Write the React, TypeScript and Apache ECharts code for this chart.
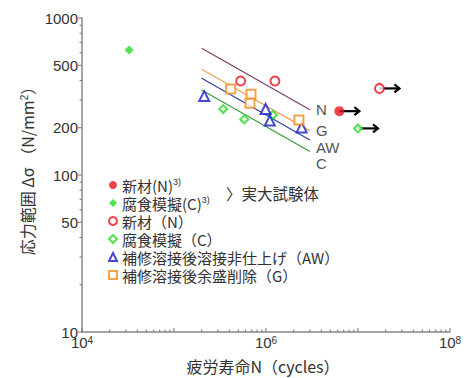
import React, { useEffect, useRef } from "react";
import * as echarts from "echarts";

// ---- data ----
const fullNewMat = [[6.27e6, 255]]; // 新材(N)3)  (run-out)
const fullCorr = [[3.25e4, 625]]; // 腐食模擬(C)3)
const newMat = [[5.3e5, 397], [1.25e6, 397], [1.71e7, 356]];
const corr = [[3.43e5, 263], [5.8e5, 226], [1.19e6, 241], [1.0e7, 198]];
const awData = [[2.13e5, 318], [9.9e5, 263], [1.1e6, 222], [2.44e6, 201]];
const gData = [[4.13e5, 353], [6.87e5, 327], [6.7e5, 286], [2.28e6, 224]];
const runOuts = [[6.27e6, 255], [1.71e7, 356], [1.0e7, 198]];

const lineN = [[2e5, 641], [3e6, 260]];
const lineG = [[2e5, 471], [3e6, 191]];
const lineAW = [[2e5, 413], [3e6, 167]];
const lineC = [[2e5, 348], [3e6, 141]];

const xDecades = [4, 5, 6, 7, 8];
const xLabelExps = [4, 6, 8];
const yLabels = [10, 50, 100, 200, 500, 1000];
const yDecades = [1, 2, 3];

const xTicks: number[][] = [];
xDecades.forEach((d) => {
  xTicks.push([Math.pow(10, d), 10, 1]);
  if (d < 8) for (let k = 2; k <= 9; k++) xTicks.push([k * Math.pow(10, d), 10, 0]);
});
const yTicks: number[][] = [];
yDecades.forEach((d) => {
  yTicks.push([1e4, Math.pow(10, d), 1]);
  if (d < 3) for (let k = 2; k <= 9; k++) yTicks.push([1e4, k * Math.pow(10, d), yLabels.includes(k * Math.pow(10, d)) ? 1 : 0]);
});
const yLabelData = yLabels.map((v) => [1e4, v]);

const RED = "#e8141c";
const GREEN = "#22dd22";
const BLUE = "#1a1acc";
const ORANGE = "#f08c1e";
const FONT_CJK = "'Noto Sans CJK JP', 'Liberation Sans', sans-serif";
const FONT = "'Liberation Sans', Arial, sans-serif";

export default function App() {
  const ref = useRef<HTMLDivElement>(null);
  useEffect(() => {
    if (!ref.current) return;
    const chart = echarts.init(ref.current, null, { renderer: "svg" });
    const sLine = (name: string, data: number[][], color: string, offY: number) => ({
      type: "line",
      name,
      data,
      symbol: "none",
      lineStyle: { color, width: 1.2 },
      z: 2,
      endLabel: {
        show: true,
        formatter: name,
        color: "#555",
        fontSize: 15,
        fontFamily: FONT,
        distance: 6,
        offset: [0, offY],
      },
    });
    const scat = (name: string, data: number[][], symbol: string, size: number, color: string, filled: boolean) => ({
      type: "scatter",
      name,
      data,
      symbol,
      symbolSize: size,
      z: 5,
      itemStyle: filled
        ? { color }
        : { color, borderColor: color, borderWidth: 1.8 },
    });
    chart.setOption({
      animation: false,
      backgroundColor: "#fff",
      grid: { left: 82, right: 24, top: 18, bottom: 46, containLabel: false },
      xAxis: {
        type: "log",
        logBase: 10,
        min: 1e4,
        max: 1e8,
        axisLine: { show: true, lineStyle: { color: "#888", width: 1.5 } },
        axisTick: { show: false },
        splitLine: { show: false },
        axisLabel: {
          margin: 3,
          color: "#333",
          fontSize: 15,
          lineHeight: 15,
          fontFamily: FONT,
          formatter: (v: number) => {
            const e = Math.round(Math.log10(v));
            return xLabelExps.includes(e) ? `10{sup|${e}}` : "";
          },
          rich: { sup: { fontSize: 10, lineHeight: 10, verticalAlign: "top", fontFamily: FONT, color: "#333" } },
        },
      },
      yAxis: {
        type: "log",
        logBase: 10,
        min: 10,
        max: 1000,
        axisLine: { show: true, lineStyle: { color: "#888", width: 1.5 } },
        axisTick: { show: false },
        axisLabel: { show: false },
        splitLine: { show: false },
      },
      legend: {
        orient: "vertical",
        left: 108,
        top: 177.5,
        itemGap: 3,
        itemWidth: 8,
        itemHeight: 8,
        padding: 0,
        textStyle: {
          fontSize: 15,
          lineHeight: 15,
          fontFamily: FONT_CJK,
          color: "#333",
          rich: { sup: { fontSize: 9, lineHeight: 9, verticalAlign: "top", fontFamily: FONT, color: "#333" } },
        },
        formatter: (name: string) =>
          name === "新材(N)" || name === "腐食模擬(C)" ? `${name}{sup|3)}` : name,
        data: ["新材(N)", "腐食模擬(C)", "新材（N）", "腐食模擬（C）", "補修溶接後溶接非仕上げ（AW）", "補修溶接後余盛削除（G）"],
      },
      graphic: [
        {
          type: "text",
          left: 226,
          top: 185,
          style: { text: "〉実大試験体", fontSize: 15.5, fontFamily: FONT_CJK, fill: "#333" },
        },
        {
          type: "text",
          x: 263,
          y: 366,
          style: {
            text: "疲労寿命N（cycles）",
            fontSize: 16,
            fontFamily: FONT_CJK,
            fill: "#333",
            align: "center",
            verticalAlign: "middle",
          },
        },
        {
          type: "text",
          x: 27,
          y: 167,
          rotation: Math.PI / 2,
          style: {
            text: "応力範囲 Δσ （N/mm{sup|2}）",
            fontSize: 16,
            lineHeight: 16,
            fontFamily: FONT_CJK,
            fill: "#333",
            align: "center",
            verticalAlign: "middle",
            rich: { sup: { fontSize: 10, lineHeight: 10, verticalAlign: "top", fontFamily: FONT, fill: "#333" } },
          },
        },
      ],
      series: [
        sLine("N", lineN, "#7a3f6a", 0),
        sLine("G", lineG, "#f0a050", 0),
        sLine("AW", lineAW, "#3040a0", 7),
        sLine("C", lineC, "#3c9a3c", 12),
        {
          type: "custom",
          name: "runout",
          data: runOuts,
          clip: false,
          z: 3,
          renderItem: (params: any, api: any) => {
            const p = api.coord([api.value(0), api.value(1)]);
            const st = { stroke: "#000", lineWidth: 2.2, fill: "none" };
            return {
              type: "group",
              children: [
                { type: "line", shape: { x1: p[0], y1: p[1], x2: p[0] + 20, y2: p[1] }, style: st },
                { type: "polyline", shape: { points: [[p[0] + 15, p[1] - 4], [p[0] + 20, p[1]], [p[0] + 15, p[1] + 4]] }, style: st },
              ],
            };
          },
        },
        scat("新材(N)", fullNewMat, "circle", 10, RED, true),
        scat("腐食模擬(C)", fullCorr, "diamond", 9, GREEN, true),
        scat("新材（N）", newMat, "emptyCircle", 9, RED, false),
        scat("腐食模擬（C）", corr, "emptyDiamond", 8, GREEN, false),
        scat("補修溶接後溶接非仕上げ（AW）", awData, "emptyTriangle", 10, BLUE, false),
        scat("補修溶接後余盛削除（G）", gData, "emptyRect", 9, ORANGE, false),
        {
          type: "custom",
          name: "xticks",
          data: xTicks,
          clip: false,
          silent: true,
          renderItem: (params: any, api: any) => {
            const p = api.coord([api.value(0), api.value(1)]);
            const len = api.value(2) ? 4 : 2.5;
            return { type: "line", shape: { x1: p[0], y1: p[1], x2: p[0], y2: p[1] - len }, style: { stroke: "#777", lineWidth: 1 } };
          },
        },
        {
          type: "custom",
          name: "yticks",
          data: yTicks,
          clip: false,
          silent: true,
          renderItem: (params: any, api: any) => {
            const p = api.coord([api.value(0), api.value(1)]);
            const len = api.value(2) ? 4 : 2.5;
            return { type: "line", shape: { x1: p[0], y1: p[1], x2: p[0] - len, y2: p[1] }, style: { stroke: "#777", lineWidth: 1 } };
          },
        },
        {
          type: "custom",
          name: "ylabels",
          data: yLabelData,
          clip: false,
          silent: true,
          renderItem: (params: any, api: any) => {
            const v = api.value(1);
            const p = api.coord([api.value(0), v]);
            return {
              type: "text",
              x: p[0] - 4,
              y: p[1],
              style: { text: String(v), fontSize: 15, fontFamily: FONT, fill: "#333", align: "right", verticalAlign: "middle" },
            };
          },
        },
      ],
    });
    return () => chart.dispose();
  }, []);
  return (
    <div
      ref={ref}
      style={{ position: "absolute", left: 0, top: 0, width: 474, height: 378, background: "#fff" }}
    />
  );
}
